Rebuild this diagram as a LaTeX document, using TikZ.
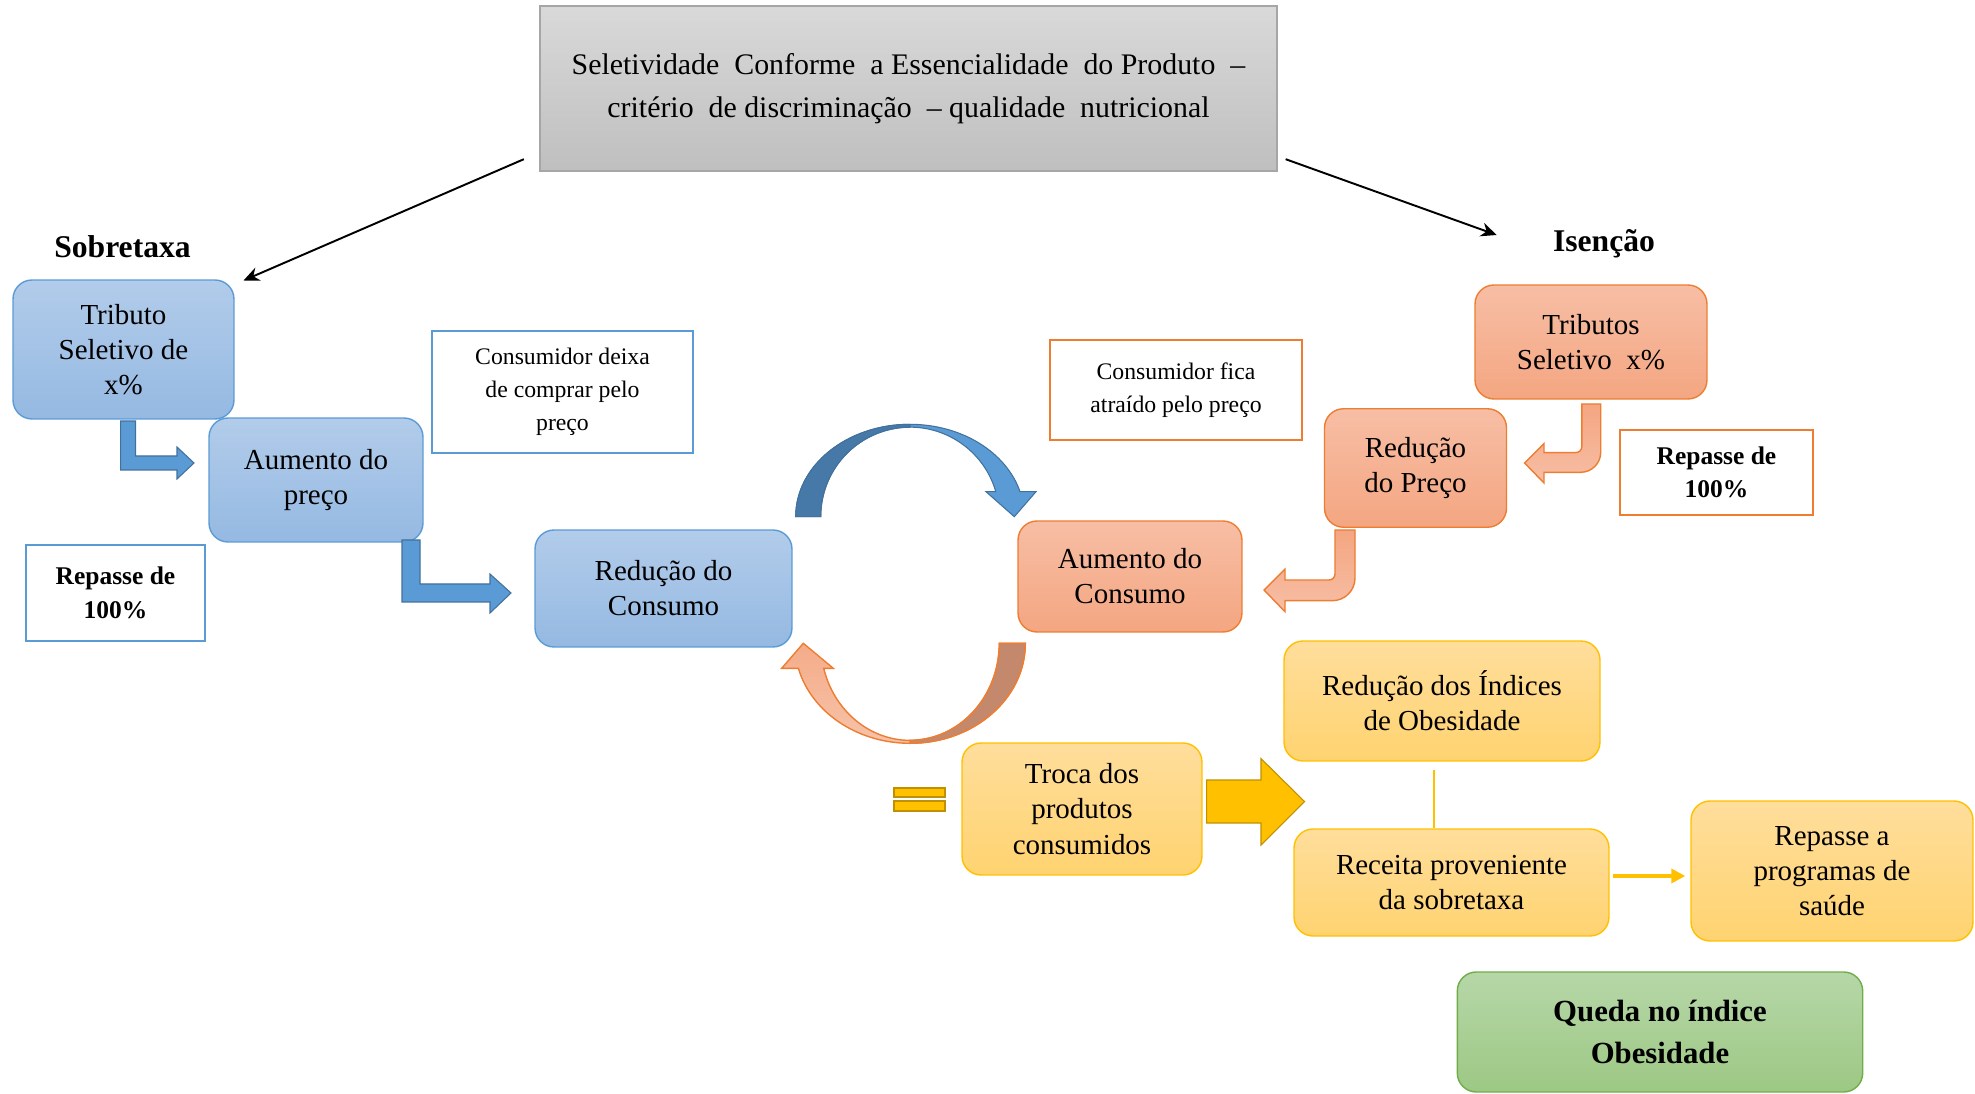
\documentclass[tikz,border=0pt]{standalone}
\usepackage{fontspec}
\setmainfont{Liberation Serif}
\usepackage{tikz}
\usetikzlibrary{arrows.meta}
\definecolor{blueedge}{RGB}{91,155,213}
\definecolor{bluetop}{RGB}{178,204,234}
\definecolor{bluebot}{RGB}{149,185,226}
\definecolor{bluedark}{RGB}{65,113,156}
\definecolor{bluemid}{RGB}{71,121,168}
\definecolor{orangeedge}{RGB}{237,125,49}
\definecolor{orangetop}{RGB}{247,190,165}
\definecolor{orangebot}{RGB}{244,166,129}
\definecolor{orangeback}{RGB}{196,136,109}
\definecolor{orangearc}{RGB}{244,172,137}
\definecolor{orangepale}{RGB}{247,196,171}
\definecolor{yellowedge}{RGB}{255,192,0}
\definecolor{yellowtop}{RGB}{255,222,156}
\definecolor{yellowbot}{RGB}{255,211,112}
\definecolor{yellowdark}{RGB}{191,144,0}
\definecolor{greenedge}{RGB}{112,173,71}
\definecolor{greentop}{RGB}{182,215,168}
\definecolor{greenbot}{RGB}{157,200,132}
\definecolor{graytop}{RGB}{217,217,217}
\definecolor{graybot}{RGB}{191,191,191}
\definecolor{grayedge}{RGB}{166,166,166}

\begin{document}
\begin{tikzpicture}[x=0.02cm, y=-0.02cm,
    box/.style={rectangle, rounded corners=0.38cm, line width=0.8pt, align=center, inner sep=2pt, font=\fontsize{16.5}{20}\selectfont},
    bluebox/.style={box, draw=blueedge, top color=bluetop, bottom color=bluebot},
    orangebox/.style={box, draw=orangeedge, top color=orangetop, bottom color=orangebot},
    yellowbox/.style={box, draw=yellowedge, top color=yellowtop, bottom color=yellowbot},
    greenbox/.style={box, draw=greenedge, top color=greentop, bottom color=greenbot, font=\bfseries\fontsize{17.5}{23.5}\selectfont},
    note/.style={rectangle, line width=1pt, fill=white, align=center, font=\fontsize{13.5}{18.8}\selectfont},
    passnote/.style={note, font=\bfseries\fontsize{14.5}{19}\selectfont},
    heading/.style={font=\bfseries\fontsize{18}{22}\selectfont},
    arrow/.style={-{Stealth[length=9pt, width=8pt]}, line width=1.1pt},
    bluebend/.style={fill=blueedge, draw=bluedark, line width=0.6pt},
    orangebend/.style={top color=orangebot, bottom color=orangetop, draw=orangeedge, line width=0.8pt},
    yellowblock/.style={fill=yellowedge, draw=yellowdark, line width=0.6pt},
    yline/.style={draw=yellowedge, line width=1.4pt}
]
\useasboundingbox (0,0) rectangle (1975,1094);

\node[box, sharp corners, draw=grayedge, top color=graytop, bottom color=graybot, font=\fontsize{17}{24.4}\selectfont, minimum width=14.74cm, minimum height=3.3cm] (selet) at (908.5,88.5) {Seletividade\ \ Conforme\ \ a Essencialidade\ \ do Produto\ \ –\\critério\ \ de discriminação\ \ – qualidade\ \ nutricional};

\node[heading] (sobre) at (122.5,246.5) {Sobretaxa};
\node[heading] (isen) at (1604,243.5) {Isenção};

\node[bluebox, minimum width=4.42cm, minimum height=2.78cm] (tribS) at (123.5,349.5) {Tributo\\Seletivo de\\x\%};
\node[bluebox, minimum width=4.28cm, minimum height=2.48cm] (aumP) at (316,480) {Aumento do\\preço};
\node[bluebox, minimum width=5.14cm, minimum height=2.34cm] (redC) at (663.5,588.5) {Redução do\\Consumo};
\node[passnote, draw=blueedge, minimum width=3.58cm, minimum height=1.92cm] (repS) at (115.5,593) {Repasse de\\100\%};
\node[note, draw=blueedge, minimum width=5.22cm, minimum height=2.44cm] (consD) at (562.5,392) {Consumidor deixa\\de comprar pelo\\preço};

\node[orangebox, minimum width=4.64cm, minimum height=2.28cm] (tribI) at (1591,342) {Tributos\\Seletivo\ \ x\%};
\node[orangebox, minimum width=3.64cm, minimum height=2.37cm] (redP) at (1415.5,468) {Redução\\do Preço};
\node[orangebox, minimum width=4.48cm, minimum height=2.22cm] (aumC) at (1130,576.5) {Aumento do\\Consumo};
\node[note, draw=orangeedge, minimum width=5.04cm, minimum height=2cm] (consA) at (1176,390) {Consumidor fica\\atraído pelo preço};
\node[passnote, draw=orangeedge, minimum width=3.86cm, minimum height=1.7cm] (repR) at (1716.5,472.5) {Repasse de\\100\%};

\node[yellowbox, minimum width=6.32cm, minimum height=2.4cm] (redI) at (1442,701) {Redução dos Índices\\de Obesidade};
\node[yellowbox, minimum width=4.8cm, minimum height=2.64cm] (troca) at (1082,809) {Troca dos\\produtos\\consumidos};
\node[yellowbox, minimum width=6.3cm, minimum height=2.14cm] (receita) at (1451.5,882.5) {Receita proveniente\\da sobretaxa};
\node[yellowbox, minimum width=5.64cm, minimum height=2.8cm] (repPS) at (1832,871) {Repasse a\\programas de\\saúde};
\node[greenbox, minimum width=8.11cm, minimum height=2.4cm] (queda) at (1660,1032) {Queda no índice\\Obesidade};

\coordinate (sobreTip) at (243.5,280.5);
\coordinate (isenTip) at (1496.7,235);
\draw[arrow] ([xshift=-0.31cm, yshift=0.25cm]selet.south west) -- (sobreTip);
\draw[arrow] ([xshift=0.16cm, yshift=0.25cm]selet.south east) -- (isenTip);

\draw[bluebend] (120.6,421) -- (135.5,421) -- (135.5,456) -- (177,456) -- (177,447) -- (194,463) -- (177,479) -- (177,470) -- (120.6,470) -- cycle;
\draw[bluebend] (402,540) -- (420,540) -- (420,584) -- (490,584) -- (490,574) -- (511,593) -- (490,613) -- (490,602) -- (402,602) -- cycle;

\draw[orangebend] (1581.8,404) -- (1600.7,404) -- (1600.7,452.3) arc[start angle=0, end angle=90, radius=20] -- (1544,472.3) -- (1544,483) -- (1524.6,463) -- (1544,443.7) -- (1544,452.6) -- (1575.8,452.6) arc[start angle=90, end angle=0, radius=6] -- cycle;
\draw[orangebend] (1335,530) -- (1355,530) -- (1355,578) arc[start angle=0, end angle=90, radius=22.7] -- (1285,600.7) -- (1285,611.7) -- (1264,590) -- (1285,569) -- (1285,580) -- (1329,580) arc[start angle=90, end angle=0, radius=6] -- cycle;

\filldraw[fill=blueedge, draw=bluedark, line width=0.6pt] (795.7,516.7) arc[start angle=180, end angle=344.3, x radius=114.3, y radius=92.4] -- (1036,491.7) -- (1014.3,516.7) -- (986,491.7) -- (995.8,491.7) arc[start angle=343.8, end angle=180, x radius=89.3, y radius=89.5] -- cycle;
\filldraw[fill=bluemid, draw=bluedark, line width=0.6pt] (795.7,516.7) arc[start angle=180, end angle=270, x radius=114.3, y radius=92.4] -- (910,427.2) arc[start angle=270, end angle=180, x radius=89.3, y radius=89.5] -- cycle;

\draw[top color=orangearc, bottom color=orangepale, draw=orangeedge, line width=0.8pt] (1025.3,643.3) arc[start angle=0, end angle=165.5, x radius=115.3, y radius=100] -- (781.7,668.3) -- (803.3,643.3) -- (833.3,668.3) -- (823.7,668.3) arc[start angle=165.1, end angle=0, x radius=89.3, y radius=97] -- cycle;
\filldraw[fill=orangeback, draw=orangeedge, line width=0.8pt] (1025.3,643.3) arc[start angle=0, end angle=90, x radius=115.3, y radius=100] -- (910,740.3) arc[start angle=90, end angle=0, x radius=89.3, y radius=97] -- cycle;

\draw[yellowblock] (894,788) rectangle (945,797);
\draw[yellowblock] (894,801) rectangle (945,811);
\draw[yellowblock] (1206.6,780) -- (1261,780) -- (1261,758.6) -- (1304.5,801.5) -- (1261,845) -- (1261,823) -- (1206.6,823) -- cycle;

\draw[yline] ([xshift=-0.16cm, yshift=-0.16cm]redI.south) -- ([xshift=-0.16cm]redI.south |- receita.north);
\draw[yline, line width=1.9pt, -{Triangle[length=8pt, width=8pt]}] ([xshift=0.06cm, yshift=0.13cm]receita.east) -- ([xshift=-0.1cm, yshift=0.13cm]receita.east -| repPS.west);

\end{tikzpicture}
\end{document}
